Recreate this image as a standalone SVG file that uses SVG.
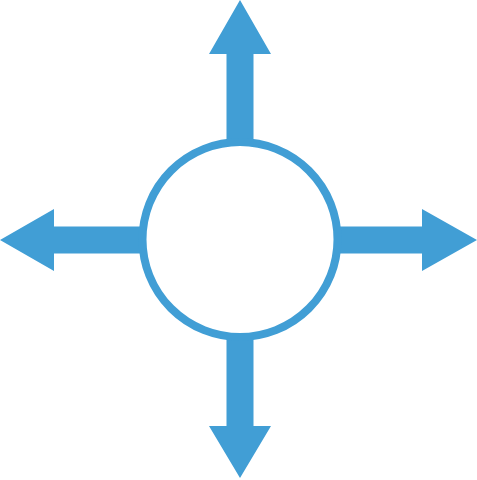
<svg xmlns="http://www.w3.org/2000/svg" width="477" height="480" viewBox="0 0 477 480">
<style>
.arrow{fill:#419ed5;}
.ring{fill:#ffffff;stroke:#419ed5;stroke-width:8;}
</style>
<g id="connectors">
<polygon class="arrow" points="240,0 271,54 253.5,54 253.5,150 226.5,150 226.5,54 209,54"/>
<polygon class="arrow" points="240,478 271,426 253.5,426 253.5,330 226.5,330 226.5,426 209,426"/>
<polygon class="arrow" points="0,240 54,209 54,226.5 150,226.5 150,253.5 54,253.5 54,271"/>
<polygon class="arrow" points="477,240 422,209 422,226.5 330,226.5 330,253.5 422,253.5 422,271"/>
</g>
<g id="center">
<circle class="ring" cx="240" cy="239.5" r="97.5"/>
</g>
</svg>
